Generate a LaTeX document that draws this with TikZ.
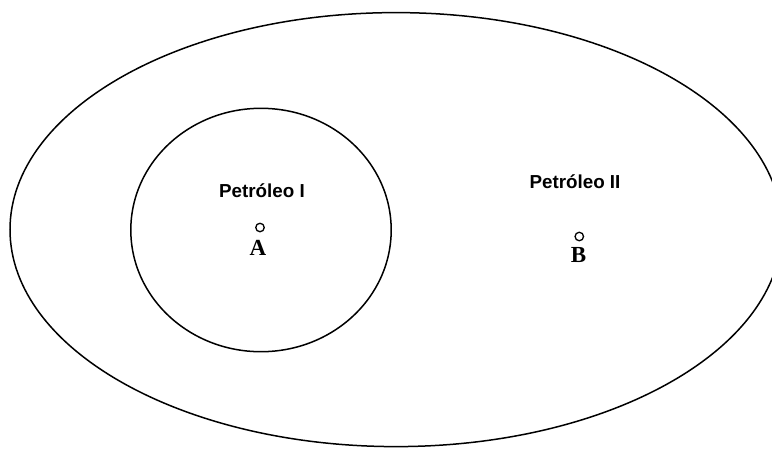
\documentclass[tikz,border=0pt]{standalone}
\usepackage{fontspec}
\setmainfont{Liberation Serif}
\newfontfamily\labfont{Liberation Sans}
\begin{document}
\begin{tikzpicture}[x=1pt,y=-1pt,
  outline/.style={draw=black,line width=1.5pt},
  region/.style={font=\labfont\bfseries\fontsize{18.8}{22}\selectfont,inner sep=0pt},
  ptlabel/.style={font=\bfseries\fontsize{23}{26}\selectfont,inner sep=0pt},
  pt/.style={circle,draw=black,line width=1.3pt,minimum size=8.5pt,inner sep=0pt}]
\useasboundingbox (0,0) rectangle (772,448);
\begin{scope}
\clip (0,0) rectangle (772,448);
\draw[outline] (396,229.6) ellipse [x radius=386, y radius=217];
\end{scope}
\draw[outline] (261,230) ellipse [x radius=130.2, y radius=121.7];
\node[region] (p1) at (262,190.5) {Petróleo I};
\node[region] (p2) at (575,181.5) {Petróleo II};
\node[pt] (a) at (260,227.5) {};
\node[ptlabel] (la) at (258,248) {A};
\node[pt] (b) at (579.3,236.5) {};
\node[ptlabel] (lb) at (578.5,254.5) {B};
\end{tikzpicture}
\end{document}
